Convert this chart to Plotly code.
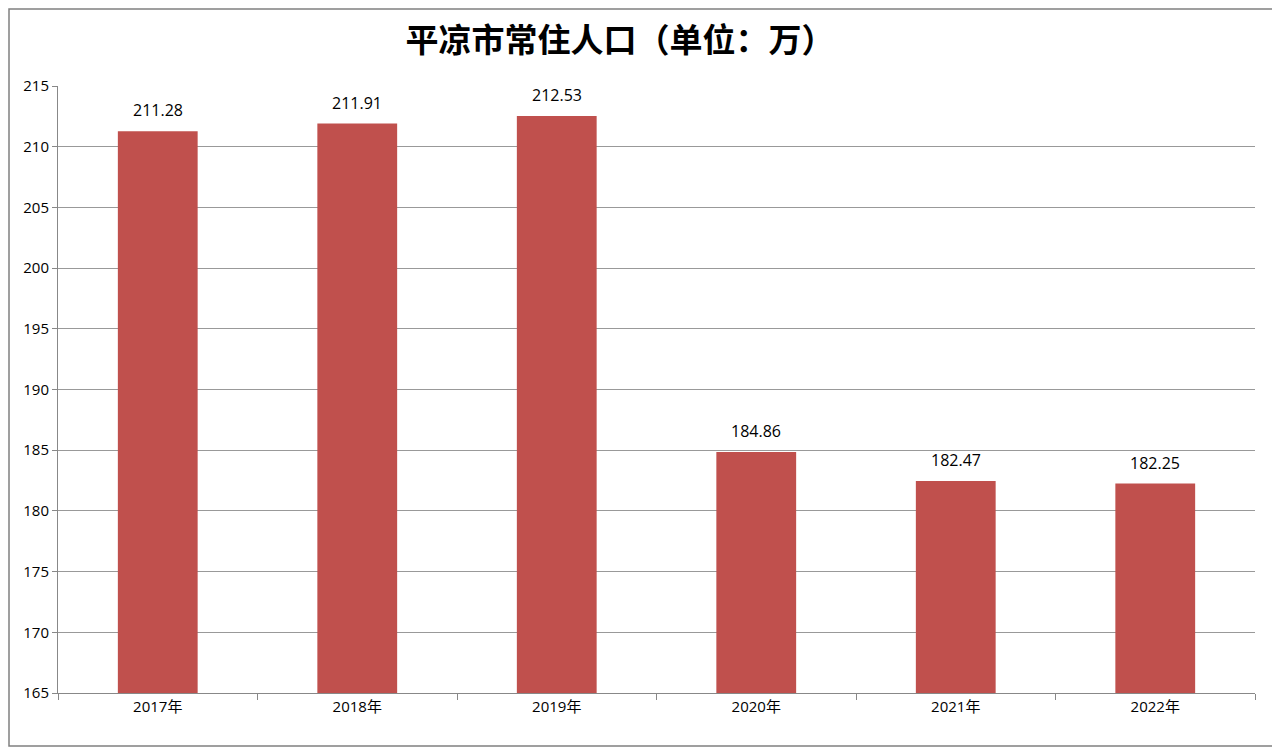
import plotly.graph_objects as go

years = ['2017年', '2018年', '2019年', '2020年', '2021年', '2022年']
population = [211.28, 211.91, 212.53, 184.86, 182.47, 182.25]
labels = ['211.28', '211.91', '212.53', '184.86', '182.47', '182.25']

W, H = 1280, 747
# the page adds an 8px offset, so margins are shifted to compensate
ml, mr, mt, mb = 50, 33, 78, 62
pw, ph = W - ml - mr, H - mt - mb

fig = go.Figure(go.Bar(
    x=years, y=population,
    marker=dict(color='#C0504D', line=dict(width=0)),
))

for yr, val, lab in zip(years, population, labels):
    fig.add_annotation(x=yr, y=val, text=lab, showarrow=False, yanchor='bottom',
                       yshift=8, font=dict(size=16, color='black'))

fig.update_layout(
    width=W, height=H,
    margin=dict(l=ml, r=mr, t=mt, b=mb),
    paper_bgcolor='white', plot_bgcolor='white',
    font=dict(family='Open Sans, Noto Sans CJK SC', size=15, color='black'),
    title=dict(text='<b>平凉市常住人口（单位：万）</b>', x=(620 - 8) / W, xanchor='center',
               y=1 - 32 / H, yanchor='middle',
               font=dict(family='Noto Sans CJK SC', size=33, color='black')),
    bargap=0.6,
    showlegend=False,
    shapes=[dict(type='rect', xref='paper', yref='paper',
                 x0=-(ml - 1) / pw, x1=1 + (mr - 10) / pw,
                 y0=-(mb - 9) / ph, y1=1 + (mt - 1) / ph,
                 line=dict(color='#808080', width=1.5))],
)
fig.update_xaxes(showline=True, linecolor='#888888', ticks='outside', tickson='boundaries',
                 ticklen=6, tickcolor='#888888', showgrid=False)
fig.update_yaxes(range=[165, 215], dtick=5, showline=True, linecolor='#888888',
                 ticks='outside', ticklen=5, tickcolor='#888888',
                 showgrid=True, gridcolor='#999999', gridwidth=1, zeroline=False)

fig.write_html('out.html')
